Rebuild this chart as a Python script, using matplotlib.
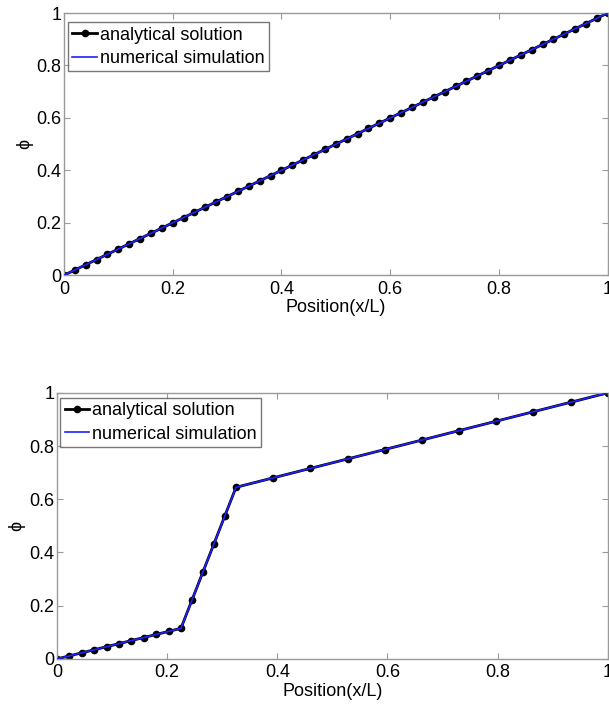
import matplotlib
matplotlib.use("Agg")
import matplotlib.pyplot as plt
from matplotlib.ticker import FormatStrFormatter

plt.rcParams['font.family'] = ['Liberation Sans', 'DejaVu Sans']

# ---- Top panel data (uniform medium) ----
x_top = [0.00, 0.02, 0.04, 0.06, 0.08, 0.10, 0.12, 0.14, 0.16, 0.18,
         0.20, 0.22, 0.24, 0.26, 0.28, 0.30, 0.32, 0.34, 0.36, 0.38,
         0.40, 0.42, 0.44, 0.46, 0.48, 0.50, 0.52, 0.54, 0.56, 0.58,
         0.60, 0.62, 0.64, 0.66, 0.68, 0.70, 0.72, 0.74, 0.76, 0.78,
         0.80, 0.82, 0.84, 0.86, 0.88, 0.90, 0.92, 0.94, 0.96, 0.98, 1.00]
phi_top_analytical = [0.00, 0.02, 0.04, 0.06, 0.08, 0.10, 0.12, 0.14, 0.16, 0.18,
                      0.20, 0.22, 0.24, 0.26, 0.28, 0.30, 0.32, 0.34, 0.36, 0.38,
                      0.40, 0.42, 0.44, 0.46, 0.48, 0.50, 0.52, 0.54, 0.56, 0.58,
                      0.60, 0.62, 0.64, 0.66, 0.68, 0.70, 0.72, 0.74, 0.76, 0.78,
                      0.80, 0.82, 0.84, 0.86, 0.88, 0.90, 0.92, 0.94, 0.96, 0.98, 1.00]
phi_top_numerical = list(phi_top_analytical)

# ---- Bottom panel data (three-layer medium) ----
x_bot = [0.0, 0.0225, 0.045, 0.0675, 0.09, 0.1125, 0.135, 0.1575, 0.18, 0.2025, 0.225,
         0.245, 0.265, 0.285, 0.305, 0.325,
         0.3925, 0.46, 0.5275, 0.595, 0.6625, 0.73, 0.7975, 0.865, 0.9325, 1.0]
phi_bot_analytical = [0.0, 0.0115, 0.023, 0.0345, 0.046, 0.0575, 0.069, 0.0805, 0.092, 0.1035, 0.115,
                      0.221, 0.327, 0.433, 0.539, 0.645,
                      0.6805, 0.716, 0.7515, 0.787, 0.8225, 0.858, 0.8935, 0.929, 0.9645, 1.0]
phi_bot_numerical = list(phi_bot_analytical)

ticks = [0, 0.2, 0.4, 0.6, 0.8, 1.0]
xlabel = "Position(x/L)"
ylabel = "\u03d5"
labels = ["analytical solution", "numerical simulation"]

fig = plt.figure(figsize=(6.09, 7.04), dpi=100)
ax1 = fig.add_axes([0.105, 0.609, 0.893, 0.3725])
ax2 = fig.add_axes([0.0936, 0.064, 0.9044, 0.378])

spine_col = '#9a9a9a'
panels = [(ax1, x_top, phi_top_analytical, phi_top_numerical, (4, 9), 2),
          (ax2, x_bot, phi_bot_analytical, phi_bot_numerical, (3, 5), 3)]
for ax, x, ya, yn, (dx, dy), ylpad in panels:
    ax.plot(x, ya, '-', color='black', lw=2.0, marker='o', ms=4.5,
            mfc='black', mec='black', label=labels[0], zorder=2)
    ax.plot(x, yn, '-', color='#2020ff', lw=1.2, label=labels[1], zorder=3)
    ax.set_xlim(0, 1)
    ax.set_ylim(0, 1)
    ax.set_xticks(ticks)
    ax.set_yticks(ticks)
    ax.xaxis.set_major_formatter(FormatStrFormatter('%g'))
    ax.yaxis.set_major_formatter(FormatStrFormatter('%g'))
    ax.tick_params(direction='in', top=True, right=True, length=4,
                   color=spine_col, labelsize=13)
    ax.tick_params(axis='x', pad=4)
    ax.tick_params(axis='y', pad=2)
    for s in ax.spines.values():
        s.set_color(spine_col)
        s.set_linewidth(1.0)
    ax.set_xlabel(xlabel, fontsize=13, labelpad=1)
    ax.set_ylabel(ylabel, fontsize=13, labelpad=ylpad)
    bbox = ax.get_position()
    w_px = bbox.width * fig.get_figwidth() * fig.dpi
    h_px = bbox.height * fig.get_figheight() * fig.dpi
    leg = ax.legend(loc='upper left', bbox_to_anchor=(dx / w_px, 1 - dy / h_px),
                    fontsize=13, frameon=True, fancybox=False,
                    borderaxespad=0.0, handlelength=1.35, handletextpad=0.15,
                    borderpad=0.25, labelspacing=0.35)
    leg.get_frame().set_edgecolor('#555555')
    leg.get_frame().set_linewidth(1.0)

fig.savefig("out.png", dpi=100)
